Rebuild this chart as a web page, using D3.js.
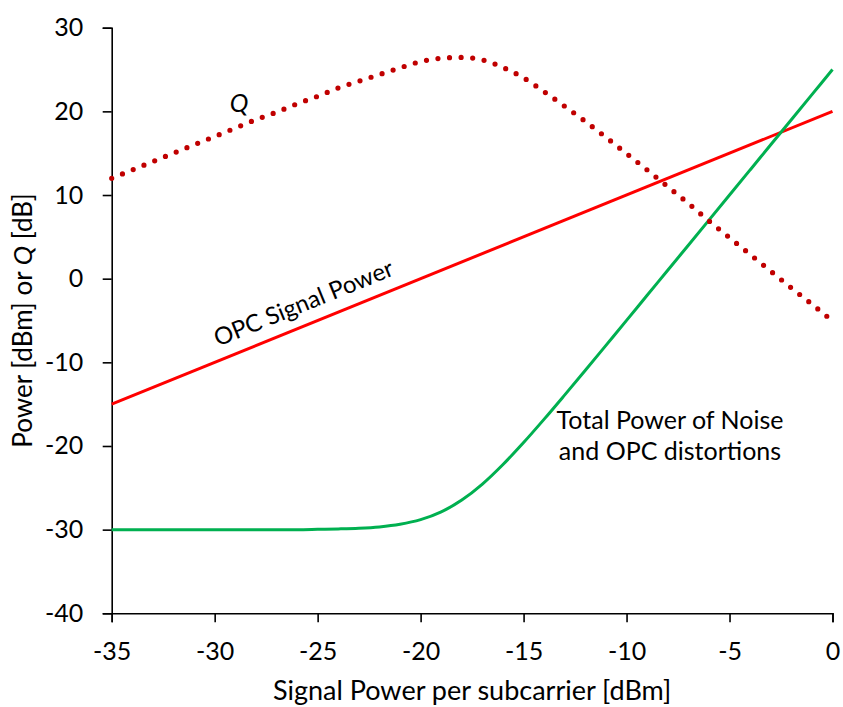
<!DOCTYPE html>
<html>
<head>
<meta charset="utf-8">
<script src="https://cdn.jsdelivr.net/npm/d3@7/dist/d3.min.js"></script>
<style>
  html, body { margin: 0; padding: 0; background: #fff; }
  svg text { font-family: Lato, "Open Sans", sans-serif; fill: #000; }
</style>
</head>
<body>
<svg id="chart" width="843" height="707"></svg>
<script>
// Signal power per subcarrier [dBm]
const signalPower = [-35, -34, -33, -32, -31, -30, -29, -28, -27, -26, -25, -24, -23, -22, -21, -20,
  -19, -18, -17, -16, -15, -14, -13, -12, -11, -10, -9, -8, -7, -6, -5, -4, -3, -2, -1, 0];

// OPC signal power [dBm] (straight line, end points)
const opcX = [-35, 0];
const opcSignal = [-15, 20];

// Total power of noise and OPC distortions [dBm]
const noiseTotal = [-30.0, -30.0, -30.0, -30.0, -30.0, -30.0, -30.0, -30.0, -30.0, -30.0, -29.96, -29.91,
  -29.83, -29.67, -29.36, -28.81, -27.88, -26.46, -24.55, -22.21, -19.59, -16.79, -13.89, -10.95,
  -7.97, -4.99, -1.99, 1.0, 4.0, 7.0, 10.0, 13.0, 16.0, 19.0, 22.0, 25.0];

// Q factor [dB]
const qFactor = [12.0, 13.0, 14.0, 15.0, 16.0, 17.0, 18.0, 19.0, 19.9, 20.9, 21.8, 22.8, 23.6, 24.4,
  25.2, 25.95, 26.35, 26.45, 26.15, 25.25, 24.0, 22.35, 20.6, 18.8, 16.9, 14.95, 13.0, 11.0, 9.0,
  6.9, 4.9, 2.9, 0.9, -1.1, -3.05, -5.05];

const xTicks = [-35, -30, -25, -20, -15, -10, -5, 0];
const yTicks = [-40, -30, -20, -10, 0, 10, 20, 30];

const svg = d3.select("#chart");
const x = d3.scaleLinear().domain([-35, 0]).range([111.7, 832.5]);
const y = d3.scaleLinear().domain([-40, 30]).range([613.3, 27.7]);

// Axes
const xAxis = svg.append("g")
  .attr("transform", `translate(0,${y(-40)})`)
  .call(d3.axisBottom(x).tickValues(xTicks).tickSize(9).tickPadding(20).tickFormat(d3.format("d")));
const yAxis = svg.append("g")
  .attr("transform", `translate(${x(-35)},0)`)
  .call(d3.axisLeft(y).tickValues(yTicks).tickSize(9).tickPadding(19.5).tickFormat(d3.format("d")));

[xAxis, yAxis].forEach(g => {
  g.select(".domain").attr("stroke", "#000").attr("stroke-width", 1.6);
  g.selectAll(".tick line").attr("stroke", "#000").attr("stroke-width", 1.6);
  g.selectAll(".tick text").attr("font-size", 25).attr("font-family", "Lato, sans-serif").attr("fill", "#000");
});
// Plain hyphen for negative tick values
xAxis.selectAll(".tick text").text(d => String(d));
yAxis.selectAll(".tick text").text(d => String(d));

// Series
const line = d3.line().x(d => x(d[0])).y(d => y(d[1]));

svg.append("path")
  .datum(opcX.map((v, i) => [v, opcSignal[i]]))
  .attr("d", line)
  .attr("fill", "none").attr("stroke", "#ff0000").attr("stroke-width", 3);

svg.append("path")
  .datum(signalPower.map((v, i) => [v, noiseTotal[i]]))
  .attr("d", line.curve(d3.curveMonotoneX))
  .attr("fill", "none").attr("stroke", "#00b050").attr("stroke-width", 3);

svg.append("path")
  .datum(signalPower.map((v, i) => [v, qFactor[i]]))
  .attr("d", d3.line().x(d => x(d[0])).y(d => y(d[1])).curve(d3.curveMonotoneX))
  .attr("fill", "none").attr("stroke", "#c00000").attr("stroke-width", 5.2)
  .attr("stroke-linecap", "round").attr("stroke-dasharray", "0 11.6");

// Annotations
svg.append("text")
  .attr("x", 239).attr("y", 112)
  .attr("text-anchor", "middle").attr("font-size", 25).attr("font-style", "italic")
  .text("Q");

const angle = -Math.atan((y(-15) - y(20)) / (x(0) - x(-35))) * 180 / Math.PI;
svg.append("text")
  .attr("transform", `translate(303,302) rotate(${angle})`)
  .attr("text-anchor", "middle").attr("dominant-baseline", "central").attr("font-size", 24)
  .text("OPC Signal Power");

const noiseLabel = svg.append("text")
  .attr("text-anchor", "middle").attr("font-size", 25);
noiseLabel.append("tspan").attr("x", 670).attr("y", 429).text("Total Power of Noise");
noiseLabel.append("tspan").attr("x", 670).attr("y", 460).text("and OPC distortions");

// Axis titles
svg.append("text")
  .attr("x", (x(-35) + x(0)) / 2).attr("y", 700)
  .attr("text-anchor", "middle").attr("font-size", 27)
  .text("Signal Power per subcarrier [dBm]");

const yTitle = svg.append("text")
  .attr("transform", `translate(32,${(y(-40) + y(30)) / 2}) rotate(-90)`)
  .attr("text-anchor", "middle").attr("font-size", 26);
yTitle.append("tspan").text("Power [dBm] or ");
yTitle.append("tspan").attr("font-style", "italic").text("Q");
yTitle.append("tspan").text(" [dB]");
</script>
</body>
</html>
